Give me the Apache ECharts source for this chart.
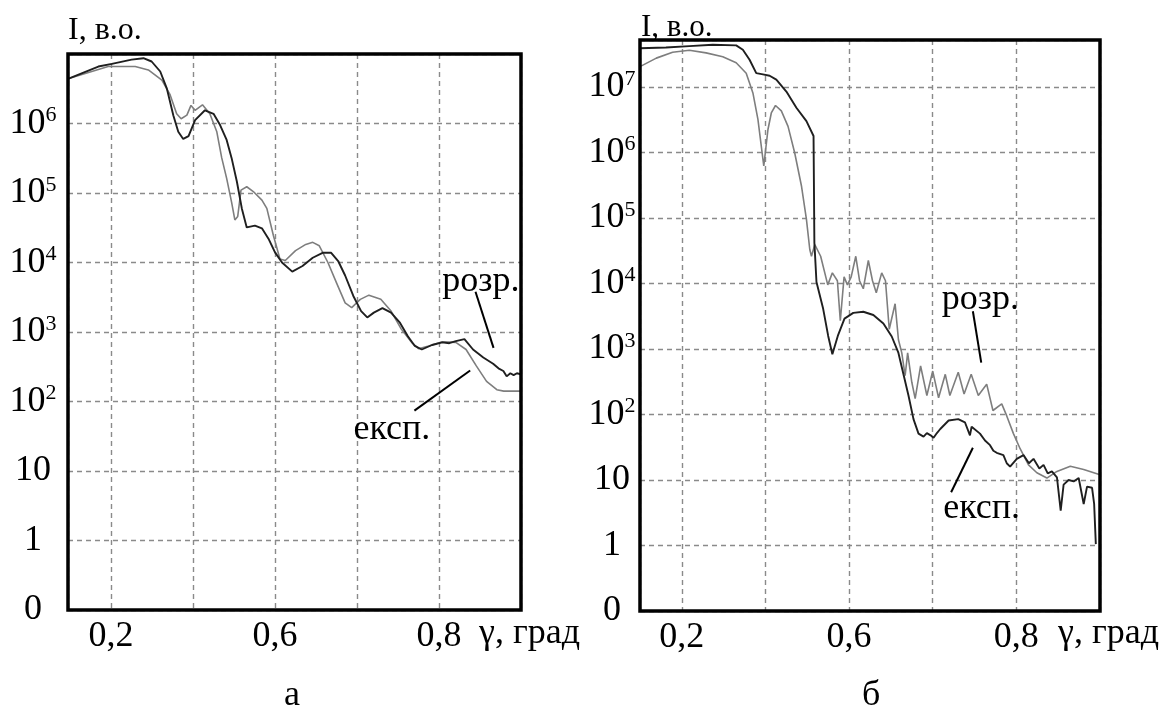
<!DOCTYPE html>
<html>
<head>
<meta charset="utf-8">
<script src="https://cdn.jsdelivr.net/npm/echarts@6/dist/echarts.min.js"></script>
<style>
  html, body { margin: 0; padding: 0; background: #fff; }
  #chart { width: 1163px; height: 725px; }
</style>
</head>
<body>
<div id="chart"></div>
<script>
// Panel а — X-ray reflectivity, intensity I (arb. units) vs glancing angle γ
const gammaCalcA = [0.095, 0.169, 0.202, 0.25, 0.279, 0.299, 0.32, 0.336, 0.352, 0.364, 0.376, 0.389, 0.405, 0.429, 0.45, 0.466, 0.482, 0.494, 0.507, 0.519, 0.531, 0.551, 0.568, 0.584, 0.60, 0.617, 0.642, 0.667, 0.692, 0.716, 0.737, 0.754, 0.771, 0.791, 0.81, 0.825, 0.841, 0.862, 0.883, 0.904, 0.924, 0.941, 0.958, 0.983, 1.008, 1.025, 1.041, 1.062, 1.083, 1.108, 1.132, 1.145, 1.157, 1.165, 1.174, 1.182, 1.19, 1.2];
const intensityCalcA = [4.4e6, 6.6e6, 7.2e6, 8.3e6, 8.7e6, 7.8e6, 5.6e6, 3.2e6, 1.3e6, 7.6e5, 6.0e5, 6.6e5, 1.12e6, 1.55e6, 1.38e6, 9.5e5, 5.8e5, 3.2e5, 1.45e5, 6.0e4, 3.2e4, 3.4e4, 3.1e4, 2.2e4, 1.4e4, 1.0e4, 7400, 8900, 1.17e4, 1.38e4, 1.38e4, 1.05e4, 6500, 3300, 2000, 1620, 1900, 2200, 1900, 1380, 870, 630, 560, 650, 710, 690, 740, 790, 560, 430, 350, 300, 275, 230, 255, 240, 255, 245];

const gammaExpA = [0.095, 0.193, 0.259, 0.291, 0.324, 0.344, 0.36, 0.371, 0.385, 0.395, 0.405, 0.423, 0.441, 0.458, 0.47, 0.482, 0.494, 0.502, 0.509, 0.517, 0.531, 0.547, 0.568, 0.58, 0.596, 0.612, 0.625, 0.65, 0.675, 0.692, 0.708, 0.729, 0.75, 0.771, 0.787, 0.808, 0.829, 0.858, 0.883, 0.908, 0.933, 0.95, 0.975, 1.008, 1.041, 1.066, 1.091, 1.116, 1.141, 1.158, 1.2];
const intensityExpA = [4.4e6, 6.6e6, 6.6e6, 5.9e6, 4.2e6, 2.6e6, 1.38e6, 1.17e6, 1.32e6, 1.82e6, 1.55e6, 1.86e6, 1.38e6, 7.6e5, 3.2e5, 1.62e5, 7.4e4, 4.1e4, 4.6e4, 1.1e5, 1.23e5, 1.05e5, 7.9e4, 6.0e4, 2.45e4, 1.12e4, 1.07e4, 1.48e4, 1.82e4, 1.95e4, 1.74e4, 1.0e4, 5100, 2630, 2240, 2950, 3390, 2950, 2000, 1100, 710, 575, 630, 725, 710, 560, 325, 195, 148, 141, 141];

// Panel б
const gammaExpB = [0.1, 0.162, 0.218, 0.274, 0.33, 0.346, 0.362, 0.378, 0.394, 0.41, 0.426, 0.45, 0.474, 0.498, 0.515, 0.517, 0.522, 0.538, 0.55, 0.56, 0.573, 0.589, 0.61, 0.634, 0.658, 0.682, 0.702, 0.718, 0.73, 0.742, 0.754, 0.766, 0.778, 0.786, 0.795, 0.802, 0.81, 0.818, 0.838, 0.861, 0.877, 0.889, 0.893, 0.913, 0.925, 0.937, 0.945, 0.953, 0.969, 0.977, 0.985, 1.001, 1.017, 1.03, 1.041, 1.055, 1.065, 1.075, 1.085, 1.097, 1.106, 1.113, 1.125, 1.137, 1.149, 1.161, 1.169, 1.181, 1.186, 1.19];
const intensityExpB = [3.9e7, 4.0e7, 4.2e7, 4.4e7, 4.3e7, 3.7e7, 2.6e7, 1.62e7, 1.55e7, 1.48e7, 1.29e7, 8.5e6, 4.8e6, 3.0e6, 1.78e6, 4.2e4, 1.05e4, 4100, 1580, 830, 1580, 2900, 3550, 3700, 3300, 2450, 1550, 870, 410, 195, 85, 51, 46, 52, 48, 44, 52, 60, 81, 85, 76, 48, 65, 51, 40, 34, 28, 26, 24, 18, 16, 21, 24, 18, 21, 15, 17, 12.6, 13.5, 11, 3.4, 8.5, 10, 9.5, 10.7, 4.3, 7.9, 7.6, 4.3, 1.05];

const gammaCalcB = [0.1, 0.139, 0.178, 0.218, 0.258, 0.298, 0.33, 0.354, 0.37, 0.382, 0.396, 0.406, 0.414, 0.424, 0.438, 0.454, 0.47, 0.486, 0.498, 0.506, 0.51, 0.518, 0.532, 0.549, 0.56, 0.572, 0.579, 0.588, 0.596, 0.605, 0.616, 0.625, 0.634, 0.646, 0.656, 0.665, 0.678, 0.687, 0.696, 0.71, 0.718, 0.726, 0.734, 0.74, 0.75, 0.758, 0.771, 0.786, 0.8, 0.814, 0.83, 0.841, 0.861, 0.875, 0.892, 0.909, 0.929, 0.944, 0.965, 0.977, 0.993, 1.009, 1.029, 1.049, 1.073, 1.097, 1.129, 1.161, 1.2];
const intensityCalcB = [2.04e7, 2.75e7, 3.39e7, 3.63e7, 3.31e7, 2.88e7, 2.34e7, 1.62e7, 8.1e6, 3.2e6, 6.2e5, 2.24e6, 4.0e6, 5.2e6, 4.3e6, 2.5e6, 9.8e5, 3.1e5, 9.5e4, 3.3e4, 2.6e4, 3.9e4, 2.6e4, 9500, 1.45e4, 1.1e4, 2700, 1.26e4, 9500, 1.26e4, 2.6e4, 1.1e4, 8300, 2.24e4, 1.1e4, 7200, 1.45e4, 1.1e4, 2000, 4900, 1380, 870, 390, 870, 310, 175, 550, 195, 460, 180, 410, 195, 440, 205, 410, 195, 290, 115, 145, 95, 51, 30, 17, 12.9, 10.7, 13.5, 16.2, 14.5, 12];

// Axis tick labels
const xTickValues = [0.2, 0.6, 1.0];
const xTickText = ['0,2', '0,6', '0,8'];
const yTickPowers = [-1, 0, 1, 2, 3, 4, 5, 6, 7];
const yTickText = ['0', '1', '10', '10{s|2}', '10{s|3}', '10{s|4}', '10{s|5}', '10{s|6}', '10{s|7}'];

// Curve captions
const captionCalc = 'розр.';
const captionExp = 'експ.';

const FONT = '"Liberation Serif", "DejaVu Serif", serif';
const DARK = '#1f1f1f';
const GREY = '#7e7e7e';

function pairs(xs, ys) { return xs.map((x, i) => [x, ys[i]]); }

function xLabel(v) {
  const i = xTickValues.findIndex(t => Math.abs(t - v) < 1e-6);
  return i >= 0 ? xTickText[i] : '';
}
function yLabel(v) {
  const k = Math.round(Math.log10(v));
  if (Math.abs(Math.log10(v) - k) > 1e-6) return '';
  const i = yTickPowers.indexOf(k);
  return i >= 0 ? yTickText[i] : '';
}

const gridLine = { show: true, lineStyle: { type: [5, 4], color: '#8a8a8a', width: 1.4 } };

function xAxisFor(gridIndex, min, max) {
  return {
    gridIndex, type: 'value', min, max, splitNumber: 5,
    axisLine: { show: false }, axisTick: { show: false },
    splitLine: gridLine,
    axisLabel: { formatter: xLabel, color: '#000', fontFamily: FONT, fontSize: 36, margin: 9,
                 showMinLabel: false, showMaxLabel: false }
  };
}
function yAxisFor(gridIndex, max, margin) {
  return {
    gridIndex, type: 'log', logBase: 10, min: 0.1, max,
    axisLine: { show: false }, axisTick: { show: false },
    splitLine: gridLine,
    axisLabel: {
      formatter: yLabel, color: '#000', fontFamily: FONT, fontSize: 36, lineHeight: 38,
      margin, align: 'center', showMaxLabel: false,
      rich: { s: { fontSize: 22, lineHeight: 22, verticalAlign: 'top', fontFamily: FONT, color: '#000' } }
    }
  };
}

function curve(name, gridIndex, xs, ys, color, width, notes) {
  const s = {
    name, type: 'line', xAxisIndex: gridIndex, yAxisIndex: gridIndex,
    data: pairs(xs, ys), showSymbol: false, symbol: 'none', smooth: false,
    lineStyle: { color, width }, animation: false, clip: true, z: 3
  };
  if (notes) {
    s.markLine = {
      silent: true, symbol: ['none', 'none'], animation: false,
      lineStyle: { color: '#000', width: 2, type: 'solid' },
      label: { show: false },
      data: [[{ coord: notes.from }, { coord: notes.to }]]
    };
    s.markPoint = {
      silent: true, symbol: 'circle', symbolSize: 0, animation: false,
      label: { show: true, position: 'inside', formatter: notes.text, color: '#000',
               fontFamily: FONT, fontSize: 36 },
      data: [{ coord: notes.at }]
    };
  }
  return s;
}

const chart = echarts.init(document.getElementById('chart'), null, { renderer: 'canvas' });

chart.setOption({
  animation: false,
  backgroundColor: '#fff',
  grid: [
    { left: 68, top: 54, width: 453, height: 556, show: true, borderColor: '#000', borderWidth: 3.5, backgroundColor: 'transparent', z: 4 },
    { left: 640, top: 40, width: 460, height: 571, show: true, borderColor: '#000', borderWidth: 3.5, backgroundColor: 'transparent', z: 4 }
  ],
  xAxis: [xAxisFor(0, 0.095, 1.2), xAxisFor(1, 0.1, 1.2)],
  yAxis: [yAxisFor(0, 1e7, 35), yAxisFor(1, 5.2e7, 28)],
  series: [
    curve(captionExp, 0, gammaExpA, intensityExpA, GREY, 1.6,
      { text: captionExp, at: [0.885, 40], from: [0.94, 74], to: [1.076, 279] }),
    curve(captionCalc, 0, gammaCalcA, intensityCalcA, DARK, 1.9,
      { text: captionCalc, at: [1.102, 5250], from: [1.089, 3800], to: [1.133, 590] }),
    curve(captionCalc, 1, gammaCalcB, intensityCalcB, GREY, 1.6,
      { text: captionCalc, at: [0.914, 5750], from: [0.896, 3760], to: [0.916, 620] }),
    curve(captionExp, 1, gammaExpB, intensityExpB, DARK, 1.9,
      { text: captionExp, at: [0.917, 3.6], from: [0.844, 6.5], to: [0.896, 31] })
  ],
  graphic: [
    { type: 'text', left: 68, top: 15, style: { text: 'I, в.о.', font: '32px ' + FONT, fill: '#000' } },
    { type: 'text', left: 641, top: 12, style: { text: 'I, в.о.', font: '31px ' + FONT, fill: '#000' } },
    { type: 'text', left: 479, top: 616, style: { text: 'γ, град', font: '36px ' + FONT, fill: '#000' } },
    { type: 'text', left: 1058, top: 616, style: { text: 'γ, град', font: '36px ' + FONT, fill: '#000' } },
    { type: 'text', left: 284, top: 678, style: { text: 'а', font: '36px ' + FONT, fill: '#000' } },
    { type: 'text', left: 862, top: 678, style: { text: 'б', font: '36px ' + FONT, fill: '#000' } }
  ]
});
</script>
</body>
</html>
